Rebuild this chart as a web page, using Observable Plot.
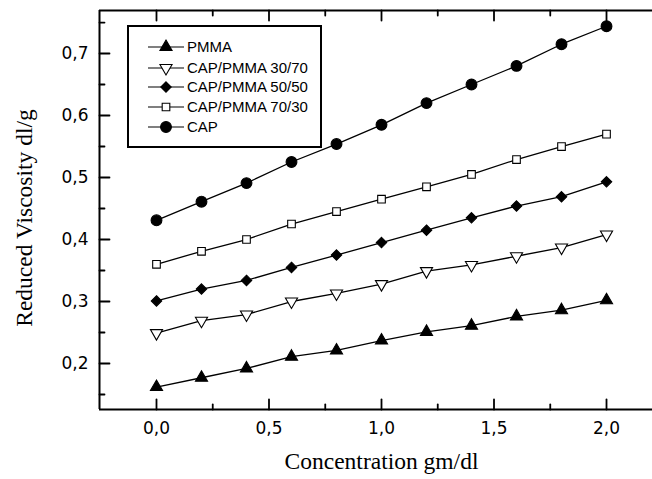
<!DOCTYPE html>
<html><head><meta charset="utf-8">
<script src="https://cdn.jsdelivr.net/npm/d3@7"></script>
<script src="https://cdn.jsdelivr.net/npm/@observablehq/plot@0.6"></script>
<style>
body{margin:0;background:#fff;}
#wrap{position:relative;width:652px;height:479px;overflow:hidden;background:#fff;}
#legend{position:absolute;left:127px;top:25px;}
</style></head><body><div id="wrap"></div>
<script>
// ---- data ----
const concentration = [0, 0.2, 0.4, 0.6, 0.8, 1.0, 1.2, 1.4, 1.6, 1.8, 2.0];
const pmma    = [0.162, 0.177, 0.192, 0.211, 0.221, 0.237, 0.251, 0.261, 0.276, 0.286, 0.302];
const cap3070 = [0.249, 0.269, 0.279, 0.300, 0.313, 0.328, 0.349, 0.359, 0.373, 0.387, 0.408];
const cap5050 = [0.301, 0.320, 0.334, 0.355, 0.375, 0.395, 0.415, 0.435, 0.454, 0.469, 0.493];
const cap7030 = [0.360, 0.381, 0.400, 0.425, 0.445, 0.465, 0.485, 0.505, 0.529, 0.550, 0.570];
const cap     = [0.431, 0.461, 0.491, 0.525, 0.554, 0.585, 0.620, 0.650, 0.680, 0.715, 0.744];
const seriesNames = ["PMMA", "CAP/PMMA 30/70", "CAP/PMMA 50/50", "CAP/PMMA 70/30", "CAP"];
const seriesValues = [pmma, cap3070, cap5050, cap7030, cap];
const xTicks = [0, 0.5, 1.0, 1.5, 2.0];
const xMinorTicks = [0.25, 0.75, 1.25, 1.75];
const yTicks = [0.2, 0.3, 0.4, 0.5, 0.6, 0.7];
const yMinorTicks = [0.15, 0.25, 0.35, 0.45, 0.55, 0.65, 0.75];
const xDomain = [-0.2533, 2.2044];
const yDomain = [0.1258, 0.7694];
const xTitle = "Concentration gm/dl";
const yTitle = "Reduced Viscosity dl/g";

// ---- styles ----
const styles = {
  "PMMA":           {symbol: "triangle", fill: "black", rotate: 0,   r: 4.5},
  "CAP/PMMA 30/70": {symbol: "triangle", fill: "white", rotate: 180, r: 4.5},
  "CAP/PMMA 50/50": {symbol: "diamond2", fill: "black", rotate: 0,   r: 4.7},
  "CAP/PMMA 70/30": {symbol: "square",   fill: "white", rotate: 0,   r: 4.3},
  "CAP":            {symbol: "circle",   fill: "black", rotate: 0,   r: 5.4}
};

const rows = [];
seriesNames.forEach((name, i) => {
  concentration.forEach((c, j) => rows.push({series: name, x: c, y: seriesValues[i][j]}));
});

const fmt = d => d3.format(".1f")(d).replace(".", ",");
const sans = "'Liberation Sans', Arial, Helvetica, sans-serif";
const tickFont = "'DejaVu Sans', 'Liberation Sans', Arial, sans-serif";
const serif = "'Liberation Serif', 'Times New Roman', Times, serif";
const tickShape = {draw(context, l) { context.moveTo(0, 0); context.lineTo(0, -l); }};
const tick = (data, opts, len) => Plot.vector(data, {anchor: "start", length: len, shape: tickShape, stroke: "black", strokeWidth: 1.8, ...opts});

const marks = [
  // frame (left, bottom, top)
  Plot.ruleX([xDomain[0]], {stroke: "black", strokeWidth: 2}),
  Plot.ruleY([yDomain[0], yDomain[1]], {stroke: "black", strokeWidth: 2}),
  // inward ticks
  tick(xTicks, {x: d => d, y: () => yDomain[0], rotate: 0}, 10),
  tick(xMinorTicks, {x: d => d, y: () => yDomain[0], rotate: 0}, 5),
  tick(xTicks, {x: d => d, y: () => yDomain[1], rotate: 180}, 10),
  tick(xMinorTicks, {x: d => d, y: () => yDomain[1], rotate: 180}, 5),
  tick(yTicks, {y: d => d, x: () => xDomain[0], rotate: 90}, 10),
  tick(yMinorTicks, {y: d => d, x: () => xDomain[0], rotate: 90}, 5),
  // tick labels
  Plot.axisX(xTicks, {anchor: "bottom", tickSize: 0, tickPadding: 12, tickFormat: fmt, fontSize: 17, fontFamily: tickFont, label: null}),
  Plot.axisY(yTicks, {anchor: "left", tickSize: 0, tickPadding: 11, tickFormat: fmt, fontSize: 17, fontFamily: tickFont, label: null}),
  // axis titles
  Plot.text([xTitle], {x: () => d3.mean(d3.extent(xTicks)), y: () => yDomain[0], dy: 52, text: d => d, fontSize: 23.5, fontFamily: serif, fill: "black"}),
  Plot.text([yTitle], {frameAnchor: "left", textAnchor: "middle", dx: -75, dy: 8, rotate: -90, text: d => d, fontSize: 23.5, fontFamily: serif, fill: "black"}),
  // lines
  Plot.line(rows, {x: "x", y: "y", z: "series", stroke: "black", strokeWidth: 1.3})
];
seriesNames.forEach(name => {
  const s = styles[name];
  marks.push(Plot.dot(rows.filter(d => d.series === name), {
    x: "x", y: "y", symbol: () => s.symbol, r: s.r, fill: s.fill, stroke: "black", strokeWidth: 1.1, rotate: s.rotate
  }));
});

const chart = Plot.plot({
  width: 652, height: 479,
  marginLeft: 99, marginRight: 0, marginTop: 10, marginBottom: 70,
  x: {domain: xDomain, axis: null},
  y: {domain: yDomain, axis: null},
  symbol: {type: "identity"},
  style: {fontFamily: sans, background: "white", color: "black", overflow: "visible"},
  marks
});
const wrap = document.getElementById("wrap");
wrap.appendChild(chart);

// ---- legend (boxed, inside the plot area) ----
const symbolMap = {triangle: d3.symbolTriangle, diamond2: d3.symbolDiamond2, square: d3.symbolSquare, circle: d3.symbolCircle};
const lg = d3.select(wrap).append("svg").attr("id", "legend").attr("width", 196).attr("height", 124);
lg.append("rect").attr("x", 1).attr("y", 1).attr("width", 193).attr("height", 121)
  .attr("fill", "white").attr("stroke", "black").attr("stroke-width", 2);
const rowY = [22, 43, 62, 82, 102];
seriesNames.forEach((name, i) => {
  const s = styles[name];
  const g = lg.append("g").attr("transform", `translate(0,${rowY[i]})`);
  g.append("line").attr("x1", 21).attr("x2", 57).attr("y1", 0).attr("y2", 0).attr("stroke", "black").attr("stroke-width", 1.2);
  g.append("path").attr("d", d3.symbol(symbolMap[s.symbol], Math.PI * s.r * s.r)())
    .attr("transform", `translate(39,0) rotate(${s.rotate})`)
    .attr("fill", s.fill).attr("stroke", "black").attr("stroke-width", 1.1);
  g.append("text").attr("x", 60).attr("y", 0).attr("dy", "0.35em").text(name)
    .attr("font-family", sans).attr("font-size", 15).attr("fill", "black");
});
</script>
</body></html>
